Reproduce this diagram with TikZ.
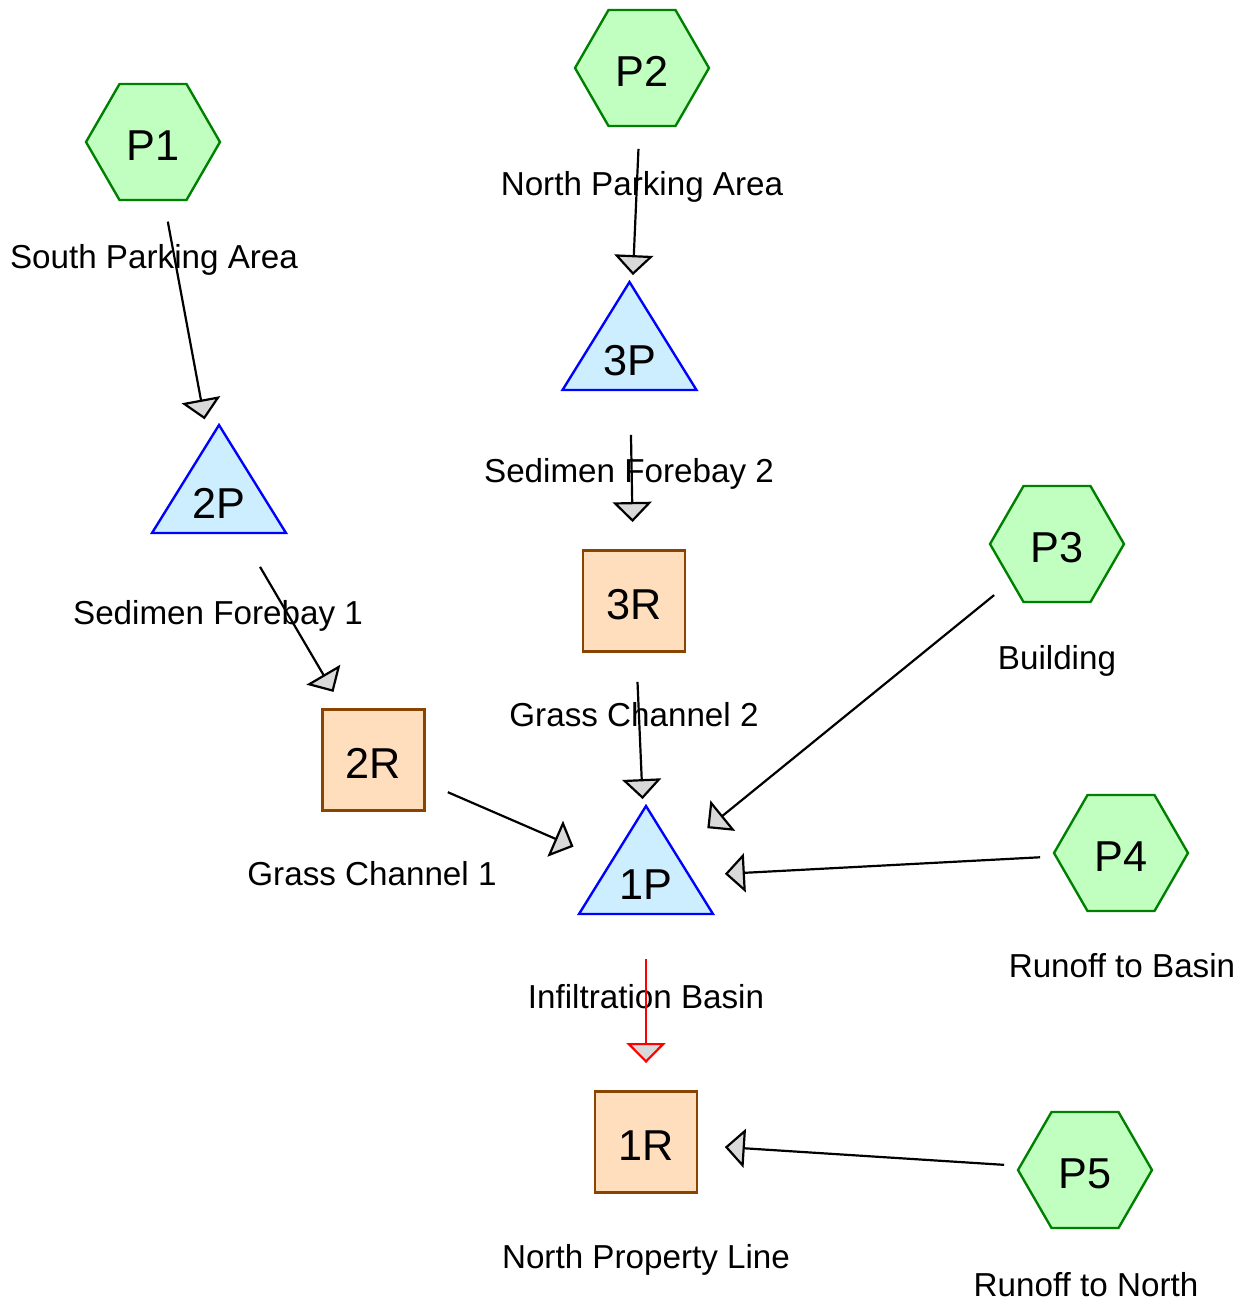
\documentclass[tikz,border=0pt]{standalone}
\usepackage{fontspec}
\setmainfont{Liberation Sans}
\usetikzlibrary{shapes.geometric,arrows.meta,backgrounds}
\definecolor{hexfill}{RGB}{192,255,192}
\definecolor{hexdraw}{RGB}{0,128,0}
\definecolor{trifill}{RGB}{204,238,255}
\definecolor{tridraw}{RGB}{0,0,255}
\definecolor{sqfill}{RGB}{255,222,189}
\definecolor{sqdraw}{RGB}{136,68,0}
\definecolor{tipfill}{RGB}{217,217,217}
\tikzset{
  nodefont/.style={font=\fontsize{24.6pt}{28pt}\selectfont, text height=21pt, text depth=0pt},
  hexa/.style={regular polygon, regular polygon sides=6, minimum size=2.68cm, inner sep=0pt,
    draw=hexdraw, fill=hexfill, line width=1.35pt, nodefont},
  trinode/.style={inner sep=0pt, nodefont, text height=24.4pt},
  trishape/.style={draw=tridraw, fill=trifill, line width=1.35pt, line join=miter},
  sq/.style={rectangle, minimum width=2.04cm, minimum height=2.02cm, inner sep=0pt,
    draw=sqdraw, fill=sqfill, line width=1.35pt, nodefont},
  lab/.style={anchor=base, inner sep=0pt, font=\fontsize{18.9pt}{22pt}\selectfont},
  conn/.style={line width=1.25pt, draw=black, shorten <=1.62cm, shorten >=1.58cm,
    -{Triangle[length=0.40cm, width=0.78cm, fill=tipfill]}},
  redconn/.style={conn, draw=red}
}
\begin{document}
\begin{tikzpicture}[x=0.02cm, y=-0.02cm]
\useasboundingbox (0,0) rectangle (1251,1303);
% hexagons
\node[hexa] (P1) at (153,142) {P1};
\node[hexa] (P2) at (642,68) {P2};
\node[hexa] (P3) at (1057,544) {P3};
\node[hexa] (P4) at (1121,853) {P4};
\node[hexa] (P5) at (1085,1170) {P5};
% triangles (node at centroid)
\node[trinode] (2P) at (219,497) {2P};
\node[trinode] (3P) at (629.5,354) {3P};
\node[trinode] (1P) at (646,878) {1P};
\begin{scope}[on background layer]
\draw[trishape] (2P.center) ++(0,-72) -- ++(67,108) -- ++(-134,0) -- cycle;
\draw[trishape] (3P.center) ++(0,-72) -- ++(67,108) -- ++(-134,0) -- cycle;
\draw[trishape] (1P.center) ++(0,-72) -- ++(67,108) -- ++(-134,0) -- cycle;
\end{scope}
% squares
\node[sq] (2R) at (373.5,760) {2R};
\node[sq] (3R) at (634,601) {3R};
\node[sq] (1R) at (646,1142) {1R};
% labels
\node[lab] (lP1) at (154,268) {South Parking Area};
\node[lab] (lP2) at (642,195) {North Parking Area};
\node[lab] (lP3) at (1057,669) {Building};
\node[lab] (lP4) at (1122,977) {Runoff to Basin};
\node[lab] (lP5) at (1086,1296) {Runoff to North};
\node[lab] (l2P) at (218,624) {Sedimen Forebay 1};
\node[lab] (l3P) at (629,482) {Sedimen Forebay 2};
\node[lab] (l1P) at (646,1008) {Infiltration Basin};
\node[lab] (l2R) at (372,885) {Grass Channel 1};
\node[lab] (l3R) at (634,726) {Grass Channel 2};
\node[lab] (l1R) at (646,1268) {North Property Line};
% connectors
\draw[conn] (P1.center) -- (2P.center);
\draw[conn] (P2.center) -- (3P.center);
\draw[conn] (3P.center) -- (3R.center);
\draw[conn] (2P.center) -- (2R.center);
\draw[conn] (3R.center) -- (1P.center);
\draw[conn] (2R.center) -- (1P.center);
\draw[conn] (P3.center) -- (1P.center);
\draw[conn] (P4.center) -- (1P.center);
\draw[redconn] (1P.center) -- (1R.center);
\draw[conn] (P5.center) -- (1R.center);
\end{tikzpicture}
\end{document}
